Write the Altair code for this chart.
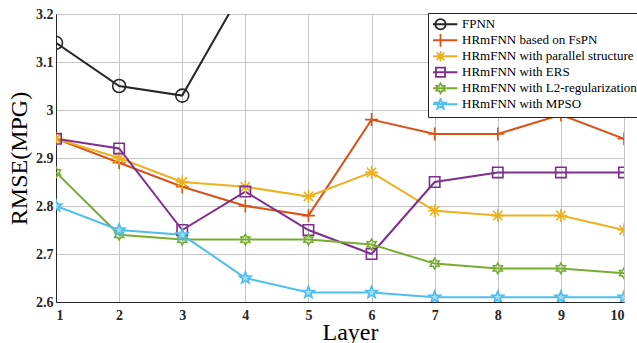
import math
import altair as alt
import pandas as pd

# ---------------- data ----------------
layers = [1, 2, 3, 4, 5, 6, 7, 8, 9, 10]
series_names = [
    "FPNN",
    "HRmFNN based on FsPN",
    "HRmFNN with parallel structure",
    "HRmFNN with ERS",
    "HRmFNN with L2-regularization",
    "HRmFNN with MPSO",
]
fpnn = [3.14, 3.05, 3.03, 3.26]          # leaves the plot after layer 3
fspn = [2.94, 2.89, 2.84, 2.80, 2.78, 2.98, 2.95, 2.95, 2.99, 2.94]
parallel = [2.94, 2.90, 2.85, 2.84, 2.82, 2.87, 2.79, 2.78, 2.78, 2.75]
ers = [2.94, 2.92, 2.75, 2.83, 2.75, 2.70, 2.85, 2.87, 2.87, 2.87]
l2 = [2.87, 2.74, 2.73, 2.73, 2.73, 2.72, 2.68, 2.67, 2.67, 2.66]
mpso = [2.80, 2.75, 2.74, 2.65, 2.62, 2.62, 2.61, 2.61, 2.61, 2.61]
y_ticks = [2.6, 2.7, 2.8, 2.9, 3.0, 3.1, 3.2]

all_series = [fpnn, fspn, parallel, ers, l2, mpso]
rows = []
for name, vals in zip(series_names, all_series):
    for lx, v in zip(layers, vals):
        rows.append({"layer": lx, "rmse": v, "series": name})
df = pd.DataFrame(rows)

# ---------------- styles ----------------
colors = ["#262626", "#D95319", "#EDB120", "#7E2F8E", "#77AC30", "#4DBEEE"]
fills = ["transparent", "transparent", "transparent", "transparent",
         "transparent", "#9fdcf5"]
FONT = "Liberation Serif"


def star_path(n, r_in, scale):
    pts = []
    for i in range(2 * n):
        a = -math.pi / 2 + i * math.pi / n
        r = scale if i % 2 == 0 else scale * r_in
        pts.append((r * math.cos(a), r * math.sin(a)))
    return "M" + "L".join(f"{x:.3f},{y:.3f}" for x, y in pts) + "Z"


def circle_path(r):
    return f"M{-r},0A{r},{r} 0 1,0 {r},0A{r},{r} 0 1,0 {-r},0Z"


plus_p = "M-1,0L1,0M0,-1L0,1"
aster_p = "M-1,0L1,0M0,-1L0,1M-0.72,-0.72L0.72,0.72M-0.72,0.72L0.72,-0.72"
square_p = "M-0.8,-0.8L0.8,-0.8L0.8,0.8L-0.8,0.8Z"
hexa_p = star_path(6, 0.577, 0.8)
penta_p = star_path(5, 0.42, 0.95)

plot_shapes = ["circle", plus_p, aster_p, square_p, hexa_p, penta_p]
line_seg = "M-2.6,0L2.6,0"
legend_shapes = [
    line_seg + circle_path(0.8),
    line_seg + "M0,-1L0,1",
    line_seg + "M-0.8,0L0.8,0M0,-0.8L0,0.8M-0.6,-0.6L0.6,0.6M-0.6,0.6L0.6,-0.6",
    line_seg + "M-0.7,-0.7L0.7,-0.7L0.7,0.7L-0.7,0.7Z",
    line_seg + star_path(6, 0.577, 0.75),
    line_seg + star_path(5, 0.42, 0.85),
]

x_enc = alt.X("layer:Q", scale=alt.Scale(domain=[1, 10], nice=False),
              axis=alt.Axis(title="Layer", values=layers, format="d",
                            labelPadding=6, titleX=294, titleY=37,
                            titleBaseline="alphabetic"))
y_enc = alt.Y("rmse:Q", scale=alt.Scale(domain=[2.6, 3.2], nice=False, zero=False),
              axis=alt.Axis(title="RMSE(MPG)", values=y_ticks, format=".1~f",
                            labelPadding=3, titlePadding=4))
color_scale = alt.Scale(domain=series_names, range=colors)

lines = alt.Chart(df).mark_line(clip=True, strokeWidth=2).encode(
    x=x_enc, y=y_enc,
    color=alt.Color("series:N", scale=color_scale, legend=None),
    detail="series:N",
)

points = alt.Chart(df).mark_point(
    clip=True, filled=False, size=169, strokeWidth=1.6, opacity=1
).encode(
    x=x_enc, y=y_enc,
    color=alt.Color("series:N", scale=color_scale, legend=None),
    shape=alt.Shape("series:N", scale=alt.Scale(domain=series_names, range=plot_shapes),
                    legend=None),
    fill=alt.Fill("series:N", scale=alt.Scale(domain=series_names, range=fills),
                  legend=None),
)

legend_layer = alt.Chart(df).transform_calculate(off="5").mark_point(
    clip=True, filled=False, size=169, strokeWidth=1.8, opacity=1
).encode(
    x=x_enc,
    y=alt.Y("off:Q"),
    color=alt.Color("series:N", scale=color_scale,
                    legend=alt.Legend(title=None)),
    shape=alt.Shape("series:N",
                    scale=alt.Scale(domain=series_names, range=legend_shapes),
                    legend=alt.Legend(title=None)),
)

chart = alt.layer(lines, points, legend_layer).resolve_scale(
    shape="independent", color="independent"
).properties(
    width=568, height=288,
    autosize=alt.AutoSizeParams(type="none"),
    padding={"left": 56, "top": 14, "right": 13, "bottom": 41},
    background="white",
).configure_view(
    stroke="#262626", strokeWidth=1
).configure_axis(
    labelFont=FONT, labelFontWeight="bold", labelFontSize=14, labelColor="#262626",
    titleFont=FONT, titleFontWeight="normal", titleFontSize=24, titleColor="black",
    domainColor="#262626", domainWidth=1, ticks=False,
    grid=True, gridColor="#c4c4c4", gridWidth=1,
).configure_legend(
    orient="none", legendX=372, legendY=-1,
    labelFont=FONT, labelFontSize=13, labelFontWeight="normal", labelColor="black",
    labelLimit=300,
    strokeColor="#262626", fillColor="white", padding=5,
    symbolSize=169, symbolStrokeWidth=1.8, labelOffset=14, rowPadding=2,
    clipHeight=12.5,
)

chart.save("out.html", embed_options={"renderer": "svg", "actions": False})
